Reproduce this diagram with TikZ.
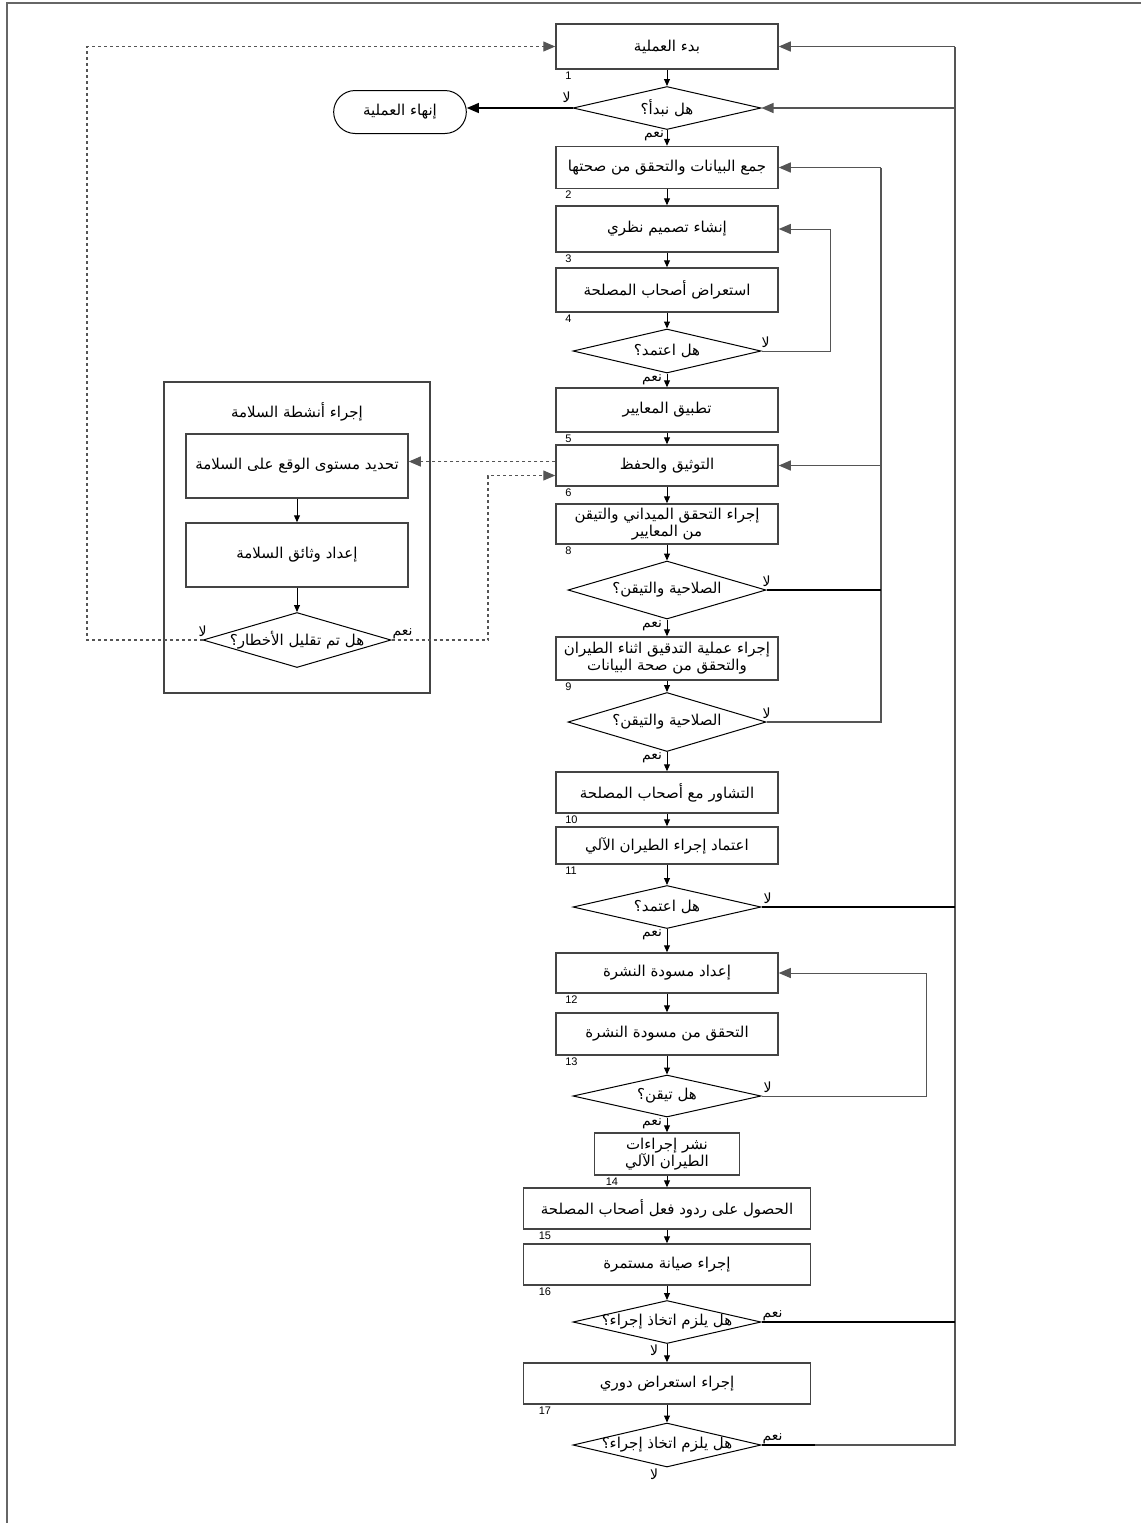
\documentclass[tikz,border=0pt]{standalone}
\usepackage{fontspec}
\setmainfont{Liberation Sans}
\newfontfamily\arabicfont[Script=Arabic]{DejaVu Sans}
\TeXXeTstate=1
\usetikzlibrary{arrows.meta,shapes.geometric,shapes.misc}
\definecolor{cEdge}{HTML}{444444}
\definecolor{cBus}{HTML}{555555}
\definecolor{cDot}{HTML}{555555}
\definecolor{cFrame}{HTML}{666666}
\newcommand\artx[1]{{\arabicfont\beginR #1\endR}}
\newcommand\dtx[1]{\makebox[0pt]{\arabicfont\beginR #1\endR}}

\begin{document}
\begin{tikzpicture}[
  x=0.5pt,y=-0.5pt,font=\fontsize{7.5}{8.5}\selectfont,
  box/.style={draw=cEdge,line width=0.75pt,minimum width=111pt,minimum height=21pt,
              inner sep=1pt,align=center},
  dec/.style={diamond,draw=black,line width=0.5pt,inner sep=0pt,
              minimum width=94pt,minimum height=21.5pt},
  term/.style={rounded rectangle,draw=black,line width=0.5pt,
               minimum width=73pt,minimum height=21.5pt},
  grp/.style={draw=cEdge,line width=0.75pt,minimum width=133pt,minimum height=155.5pt},
  num/.style={font=\fontsize{5.5}{6}\selectfont,anchor=north west,inner sep=0.8pt},
  yn/.style={font=\fontsize{7}{7.5}\selectfont,inner sep=0.3pt},
  ar/.style={-{Triangle[length=3.5pt,width=3pt]},line width=0.5pt},
  arw/.style={-{Triangle[length=6pt,width=5pt]},draw=cBus,line width=0.7pt},
  thk/.style={draw=black,line width=1.1pt},
  bus/.style={draw=cBus,line width=0.7pt},
  dotar/.style={-{Triangle[length=6pt,width=5pt]},draw=cDot,line width=0.6pt,
                dash pattern=on 1.5pt off 1.5pt}
]
\useasboundingbox (0,0) rectangle (1141,1523);
% ---- moldura
\draw[draw=cFrame,line width=0.8pt] (7,1523) -- (7,3) -- (1141,3);

% ---- coluna principal
\node[box,minimum height=22.5pt] (b1) at (667,46.5) {\artx{بدء العملية}};
\node[dec] (q1) at (667,108) {\dtx{هل نبدأ؟}};
\node[term] (fin) at (400,112) {\artx{إنهاء العملية}};
\node[box] (b2) at (667,167.5) {\artx{جمع البيانات والتحقق من صحتها}};
\node[box,minimum height=23pt] (b3) at (667,229) {\artx{إنشاء تصميم نظري}};
\node[box,minimum height=22pt] (b4) at (667,290) {\artx{استعراض أصحاب المصلحة}};
\node[dec,minimum height=22pt] (q2) at (667,351) {\dtx{هل اعتمد؟}};
\node[box,minimum height=22pt] (b5) at (667,410) {\artx{تطبيق المعايير}};
\node[box,minimum height=20.5pt] (b6) at (667,465.5) {\artx{التوثيق والحفظ}};
\node[box,minimum height=20pt] (b8) at (667,524)
  {\artx{إجراء التحقق الميداني والتيقن}\\\artx{من المعايير}};
\node[dec,minimum width=99pt,minimum height=29pt] (q3) at (667,590) {\dtx{الصلاحية والتيقن؟}};
\node[box,minimum height=21.5pt] (b9) at (667,658.5)
  {\artx{إجراء عملية التدقيق اثناء الطيران}\\\artx{والتحقق من صحة البيانات}};
\node[dec,minimum width=99pt,minimum height=29.5pt] (q4) at (667,722) {\dtx{الصلاحية والتيقن؟}};
\node[box,minimum height=20.5pt] (b10) at (667,792.5) {\artx{التشاور مع أصحاب المصلحة}};
\node[box,minimum height=18.5pt] (b11) at (667,845.5) {\artx{اعتماد إجراء الطيران الآلي}};
\node[dec] (q5) at (667,907) {\dtx{هل اعتمد؟}};
\node[box,minimum height=20pt] (b12) at (667,973) {\artx{إعداد مسودة النشرة}};
\node[box] (b13) at (667,1034) {\artx{التحقق من مسودة النشرة}};
\node[dec,minimum height=21pt] (q6) at (667,1096) {\dtx{هل تيقن؟}};
\node[box,minimum width=72.5pt] (b14) at (667,1154) {\artx{نشر إجراءات}\\\artx{الطيران الآلي}};
\node[box,minimum width=143.5pt,minimum height=20.5pt] (b15) at (667,1208.5)
  {\artx{الحصول على ردود فعل أصحاب المصلحة}};
\node[box,minimum width=143.5pt,minimum height=20.5pt] (b16) at (667,1264.5) {\artx{إجراء صيانة مستمرة}};
\node[dec] (q7) at (667,1322) {\dtx{هل يلزم اتخاذ إجراء؟}};
\node[box,minimum width=143.5pt,minimum height=20.5pt] (b17) at (667,1383.5) {\artx{إجراء استعراض دوري}};
\node[dec,minimum height=22pt] (q8) at (667,1445) {\dtx{هل يلزم اتخاذ إجراء؟}};

% ---- numeros
\node[num] at ([xshift=4pt]b1.south west) {1};
\node[num] at ([xshift=4pt]b2.south west) {2};
\node[num] at ([xshift=4pt]b3.south west) {3};
\node[num] at ([xshift=4pt]b4.south west) {4};
\node[num] at ([xshift=4pt]b5.south west) {5};
\node[num] at ([xshift=4pt]b6.south west) {6};
\node[num] at ([xshift=4pt]b8.south west) {8};
\node[num] at ([xshift=4pt]b9.south west) {9};
\node[num] at ([xshift=4pt]b10.south west) {10};
\node[num] at ([xshift=4pt]b11.south west) {11};
\node[num] at ([xshift=4pt]b12.south west) {12};
\node[num] at ([xshift=4pt]b13.south west) {13};
\node[num] at ([xshift=5pt]b14.south west) {14};
\node[num] at ([xshift=7pt]b15.south west) {15};
\node[num] at ([xshift=7pt]b16.south west) {16};
\node[num] at ([xshift=7pt]b17.south west) {17};

% ---- nao / sim
\node[yn,anchor=south] at ([xshift=-3pt,yshift=2pt]q1.west) {\artx{لا}};
\node[yn,anchor=north east] at ([xshift=-1pt]q1.south) {\artx{نعم}};
\node[yn,anchor=south] at ([xshift=2pt,yshift=1pt]q2.east) {\artx{لا}};
\node[yn,anchor=north east] at ([xshift=-2pt]q2.south) {\artx{نعم}};
\node[yn,anchor=south] at ([yshift=1pt]q3.east) {\artx{لا}};
\node[yn,anchor=north east] at ([xshift=-2pt]q3.south) {\artx{نعم}};
\node[yn,anchor=south] at ([yshift=1pt]q4.east) {\artx{لا}};
\node[yn,anchor=north east] at ([xshift=-2pt]q4.south) {\artx{نعم}};
\node[yn,anchor=south] at ([xshift=3pt,yshift=1pt]q5.east) {\artx{لا}};
\node[yn,anchor=north east] at ([xshift=-2pt]q5.south) {\artx{نعم}};
\node[yn,anchor=south] at ([xshift=3pt,yshift=1pt]q6.east) {\artx{لا}};
\node[yn,anchor=north east] at ([xshift=-2pt]q6.south) {\artx{نعم}};
\node[yn,anchor=south west] at (q7.east) {\artx{نعم}};
\node[yn,anchor=north east] at ([xshift=-4pt]q7.south) {\artx{لا}};
\node[yn,anchor=south west] at (q8.east) {\artx{نعم}};
\node[yn,anchor=north east] at ([xshift=-4pt]q8.south) {\artx{لا}};

% ---- setas principais
\draw[ar] (b1.south) -- (q1.north);
\draw[ar] (q1.south) -- (b2.north);
\draw[ar] (b2.south) -- (b3.north);
\draw[ar] (b3.south) -- (b4.north);
\draw[ar] (b4.south) -- (q2.north);
\draw[ar] (q2.south) -- (b5.north);
\draw[ar] (b5.south) -- (b6.north);
\draw[ar] (b6.south) -- (b8.north);
\draw[ar] (b8.south) -- (q3.north);
\draw[ar] (q3.south) -- (b9.north);
\draw[ar] (b9.south) -- (q4.north);
\draw[ar] (q4.south) -- (b10.north);
\draw[ar] (b10.south) -- (b11.north);
\draw[ar] (b11.south) -- (q5.north);
\draw[ar] (q5.south) -- (b12.north);
\draw[ar] (b12.south) -- (b13.north);
\draw[ar] (b13.south) -- (q6.north);
\draw[ar] (q6.south) -- (b14.north);
\draw[ar] (b14.south) -- (b15.north);
\draw[ar] (b15.south) -- (b16.north);
\draw[ar] (b16.south) -- (q7.north);
\draw[ar] (q7.south) -- (b17.north);
\draw[ar] (b17.south) -- (q8.north);
\draw[arw,draw=black,line width=0.6pt] (q1.west) -- (q1.west -| fin.east);

% ---- retornos
\coordinate (ra) at (955,0);
\coordinate (rb) at (881,0);
\coordinate (rc) at (830,0);
\coordinate (rd) at (926,0);
\draw[bus] (q8.east) -- (q8.east -| ra) -- (b1.east -| ra);
\draw[thk] (q8.east) -- ++(53,0);
\draw[arw] (b1.east -| ra) -- (b1.east);
\draw[arw] (q1.east -| ra) -- (q1.east);
\draw[thk] (q5.east) -- (q5.east -| ra);
\draw[thk] (q7.east) -- (q7.east -| ra);
\draw[bus] (q4.east) -- (q4.east -| rb) -- (b2.east -| rb);
\draw[arw] (b2.east -| rb) -- (b2.east);
\draw[arw] (b6.east -| rb) -- (b6.east);
\draw[thk] (q3.east) -- (q3.east -| rb);
\draw[arw,line width=0.5pt] (q2.east) -- (q2.east -| rc) -- (b3.east -| rc) -- (b3.east);
\draw[arw,line width=0.5pt] (q6.east) -- (q6.east -| rd) -- (b12.east -| rd) -- (b12.east);

% ---- atividades de seguranca
\node[grp] (sg) at (297,537.5) {};
\node (sgt) at (297,412) {\artx{إجراء أنشطة السلامة}};
\node[box,minimum height=32pt] (sa) at (297,466) {\artx{تحديد مستوى الوقع على السلامة}};
\node[box,minimum height=32pt] (sb) at (297,555) {\artx{إعداد وثائق السلامة}};
\node[dec,minimum height=27.5pt] (qs) at (297,640) {\dtx{هل تم تقليل الأخطار؟}};
\node[yn,anchor=south] at ([yshift=1pt]qs.west) {\artx{لا}};
\node[yn,anchor=south west] at (qs.east) {\artx{نعم}};
\draw[ar] (sa.south) -- (sb.north);
\draw[ar] (sb.south) -- (qs.north);

% ---- ligacoes pontilhadas
\coordinate (dl) at (87,0);
\coordinate (dv) at (488,0);
\draw[dotar] (qs.west) -- (qs.west -| dl) -- (b1.west -| dl) -- (b1.west);
\draw[dotar] ([yshift=2pt]b6.west) -- ([yshift=2pt]b6.west -| sa.east);
\draw[dotar] (qs.east) -- (qs.east -| dv) -- ([yshift=-5pt]b6.west -| dv) -- ([yshift=-5pt]b6.west);
\end{tikzpicture}
\end{document}
